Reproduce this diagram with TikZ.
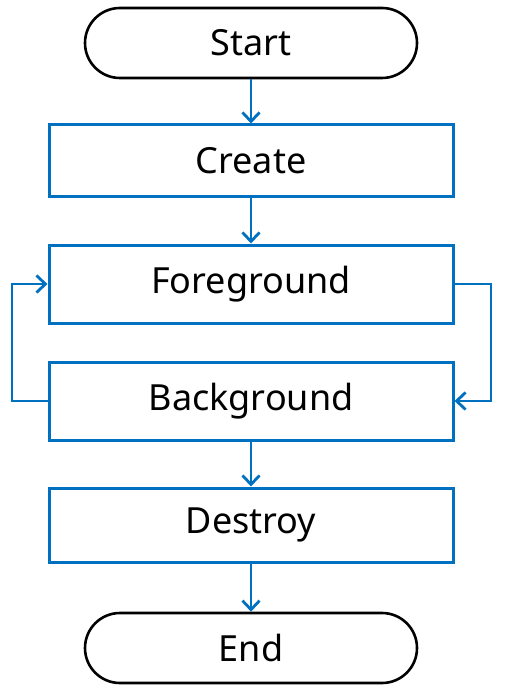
\documentclass[tikz,border=0pt]{standalone}
\usepackage{fontspec}
\setmainfont{Noto Sans}
\usetikzlibrary{arrows.meta}
\definecolor{flowblue}{HTML}{0070C0}
\begin{document}
\begin{tikzpicture}[x=1pt,y=-1pt,
  every node/.style={font=\fontsize{36}{42}\selectfont, inner sep=0pt},
  term/.style={draw=black, line width=2.6pt, minimum width=332pt, minimum height=70pt, rounded corners=35pt},
  procbox/.style={draw=flowblue, line width=3pt, minimum width=404pt},
  flow/.style={draw=flowblue, line width=2.8pt, -{Straight Barb[length=9pt,width=17pt,line width=2.8pt]}},
]
\useasboundingbox (0,0) rectangle (504,695);
\node[term] (start) at (251,43) {Start};
\node[procbox, minimum height=71pt] (create) at (251,160.5) {Create};
\node[procbox, minimum height=78pt] (fg) at (251,284) {Foreground};
\node[procbox, minimum height=78pt] (bg) at (251,401) {Background};
\node[procbox, minimum height=74pt] (destroy) at (251,525) {Destroy};
\node[term] (end) at (251,648) {End};
\coordinate (lx) at (12,0);
\coordinate (rx) at (491,0);
\draw[flow] (start) -- (create);
\draw[flow] (create) -- (fg);
\draw[flow] (bg) -- (destroy);
\draw[flow] (destroy) -- (end);
\draw[flow, line width=2.3pt] (bg.west) -- (bg.west -| lx) |- (fg.west);
\draw[flow, line width=2.3pt] (fg.east) -- (fg.east -| rx) |- (bg.east);
\end{tikzpicture}
\end{document}
